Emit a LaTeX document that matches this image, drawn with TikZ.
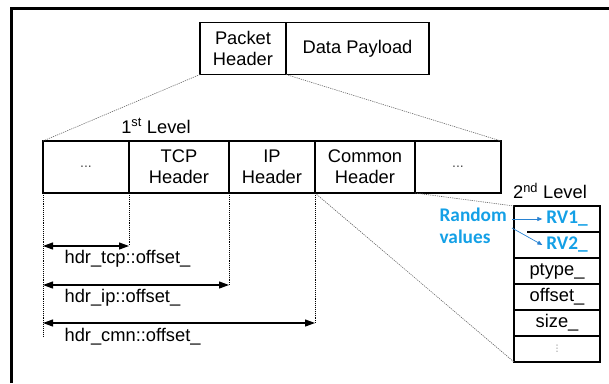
\documentclass[tikz,border=0pt]{standalone}
\usepackage{fontspec}
\setmainfont{Liberation Sans}
\newfontfamily\rvfont{Carlito}
\newfontfamily\symfont{DejaVu Sans}
\usetikzlibrary{positioning,arrows.meta}
\definecolor{SkyBlue}{RGB}{20,160,230}
\definecolor{ArrowBlue}{RGB}{40,130,210}

\begin{document}
\begin{tikzpicture}[x=1pt,y=-1pt,
       >={Triangle[length=10pt,width=7pt]}, line width=1.2pt, text=black,
       every node/.style={font=\fontsize{18.3}{21}\selectfont},
       field/.style 2 args = {rectangle, draw, line width=1.2pt, minimum width=#1,
                              minimum height=#2, inner sep=0pt, outer sep=0pt, align=center},
       zoomline/.style = {line width=0.6pt, gray!80!black, dash pattern=on 1.2pt off 1pt},
       guide/.style = {line width=0.9pt, densely dotted},
       offarrow/.style = {<->, line width=1.2pt},
       rvtext/.style = {text=SkyBlue, font=\rvfont\bfseries\fontsize{19.3}{22}\selectfont},
       rvarrow/.style = {->, >={Triangle[length=5pt,width=4pt]}, line width=0.7pt, ArrowBlue}]
	\useasboundingbox (0,0) rectangle (609,383);

	%% Frame
	\draw[line width=3pt] (11,383) -- (11,8.5) -- (609,8.5);

	%% Packet
	\node [field={86pt}{52pt},anchor=north west] (pkthdr) at (200,22.5) {Packet\\Header};
	\node [field={143pt}{52pt},right = 0pt of pkthdr] (payload) {Data Payload};

	%% 1st level
	\node [field={86pt}{52pt},anchor=north west] (dots1) at (43,141) {\textcolor{black!70}{\fontsize{14}{14}\selectfont...}};
	\node [field={100pt}{52pt},right = 0pt of dots1] (tcp) {TCP\\Header};
	\node [field={86pt}{52pt},right = 0pt of tcp] (ip) {IP\\Header};
	\node [field={100pt}{52pt},right = 0pt of ip] (cmn) {Common\\Header};
	\node [field={86pt}{52pt},right = 0pt of cmn] (more) {\textcolor{black!70}{\fontsize{14}{14}\selectfont...}};
	\node [anchor=center] (lvl1) at (156,126) {1\textsuperscript{st} Level};

	%% 2nd level
	\node [field={86pt}{26pt},anchor=north west] (rv1) at (514,206) {};
	\node [field={86pt}{26pt},below = 0pt of rv1] (rv2) {};
	\node [field={86pt}{26pt},below = 0pt of rv2] (ptype) {ptype\_};
	\node [field={86pt}{26pt},below = 0pt of ptype] (offs) {offset\_};
	\node [field={86pt}{26pt},below = 0pt of offs] (size) {size\_};
	\node [field={86pt}{26pt},below = 0pt of size] (vdots) {\textcolor{black!50}{\symfont\fontsize{9}{9}\selectfont ⋮}};
	\draw[white,line width=1.6pt] ([xshift=1pt]rv1.south west) -- ([xshift=13pt]rv1.south west);
	\node [anchor=center] (lvl2) at (550,191) {2\textsuperscript{nd} Level};
	\node [rvtext] (rv1txt) at ([xshift=10pt]rv1.center) {RV1\_};
	\node [rvtext] (rv2txt) at ([xshift=10pt]rv2.center) {RV2\_};
	\node [rvtext,align=left,anchor=north west,inner sep=0pt] (rnd) at (439,207) {Random\\values};

	%% Zoom lines
	\draw[zoomline] (pkthdr.south west) -- (dots1.north west);
	\draw[zoomline] (pkthdr.south east) -- (more.north east);
	\draw[zoomline] (more.south west) -- (rv1.north west);
	\draw[zoomline] (cmn.south west) -- (vdots.south west);

	%% Offsets
	\draw[guide] (dots1.south west) -- ++(0,144);
	\draw[guide] (tcp.south west) -- ++(0,53) coordinate (tcpend);
	\draw[guide] (ip.south west) -- ++(0,92) coordinate (ipend);
	\draw[guide] (cmn.south west) -- ++(0,130) coordinate (cmnend);
	\draw[offarrow] (dots1.west |- tcpend) -- (tcpend);
	\draw[offarrow] (dots1.west |- ipend) -- (ipend);
	\draw[offarrow] (dots1.west |- cmnend) -- (cmnend);
	\node [anchor=west,inner sep=0pt] (tcplbl) at ([xshift=21pt,yshift=-13pt]dots1.west |- tcpend) {hdr\_tcp::offset\_};
	\node [anchor=west,inner sep=0pt] (iplbl) at ([xshift=21pt,yshift=-13pt]dots1.west |- ipend) {hdr\_ip::offset\_};
	\node [anchor=west,inner sep=0pt] (cmnlbl) at ([xshift=21pt,yshift=-14pt]dots1.west |- cmnend) {hdr\_cmn::offset\_};

	%% Random values
	\coordinate (rvsrc) at ([xshift=-2pt]rv1.west);
	\draw[rvarrow] (rvsrc) -- (rv1txt.west);
	\draw[rvarrow] ([yshift=-9pt]rvsrc) -- (rv2txt.west);
\end{tikzpicture}
\end{document}
